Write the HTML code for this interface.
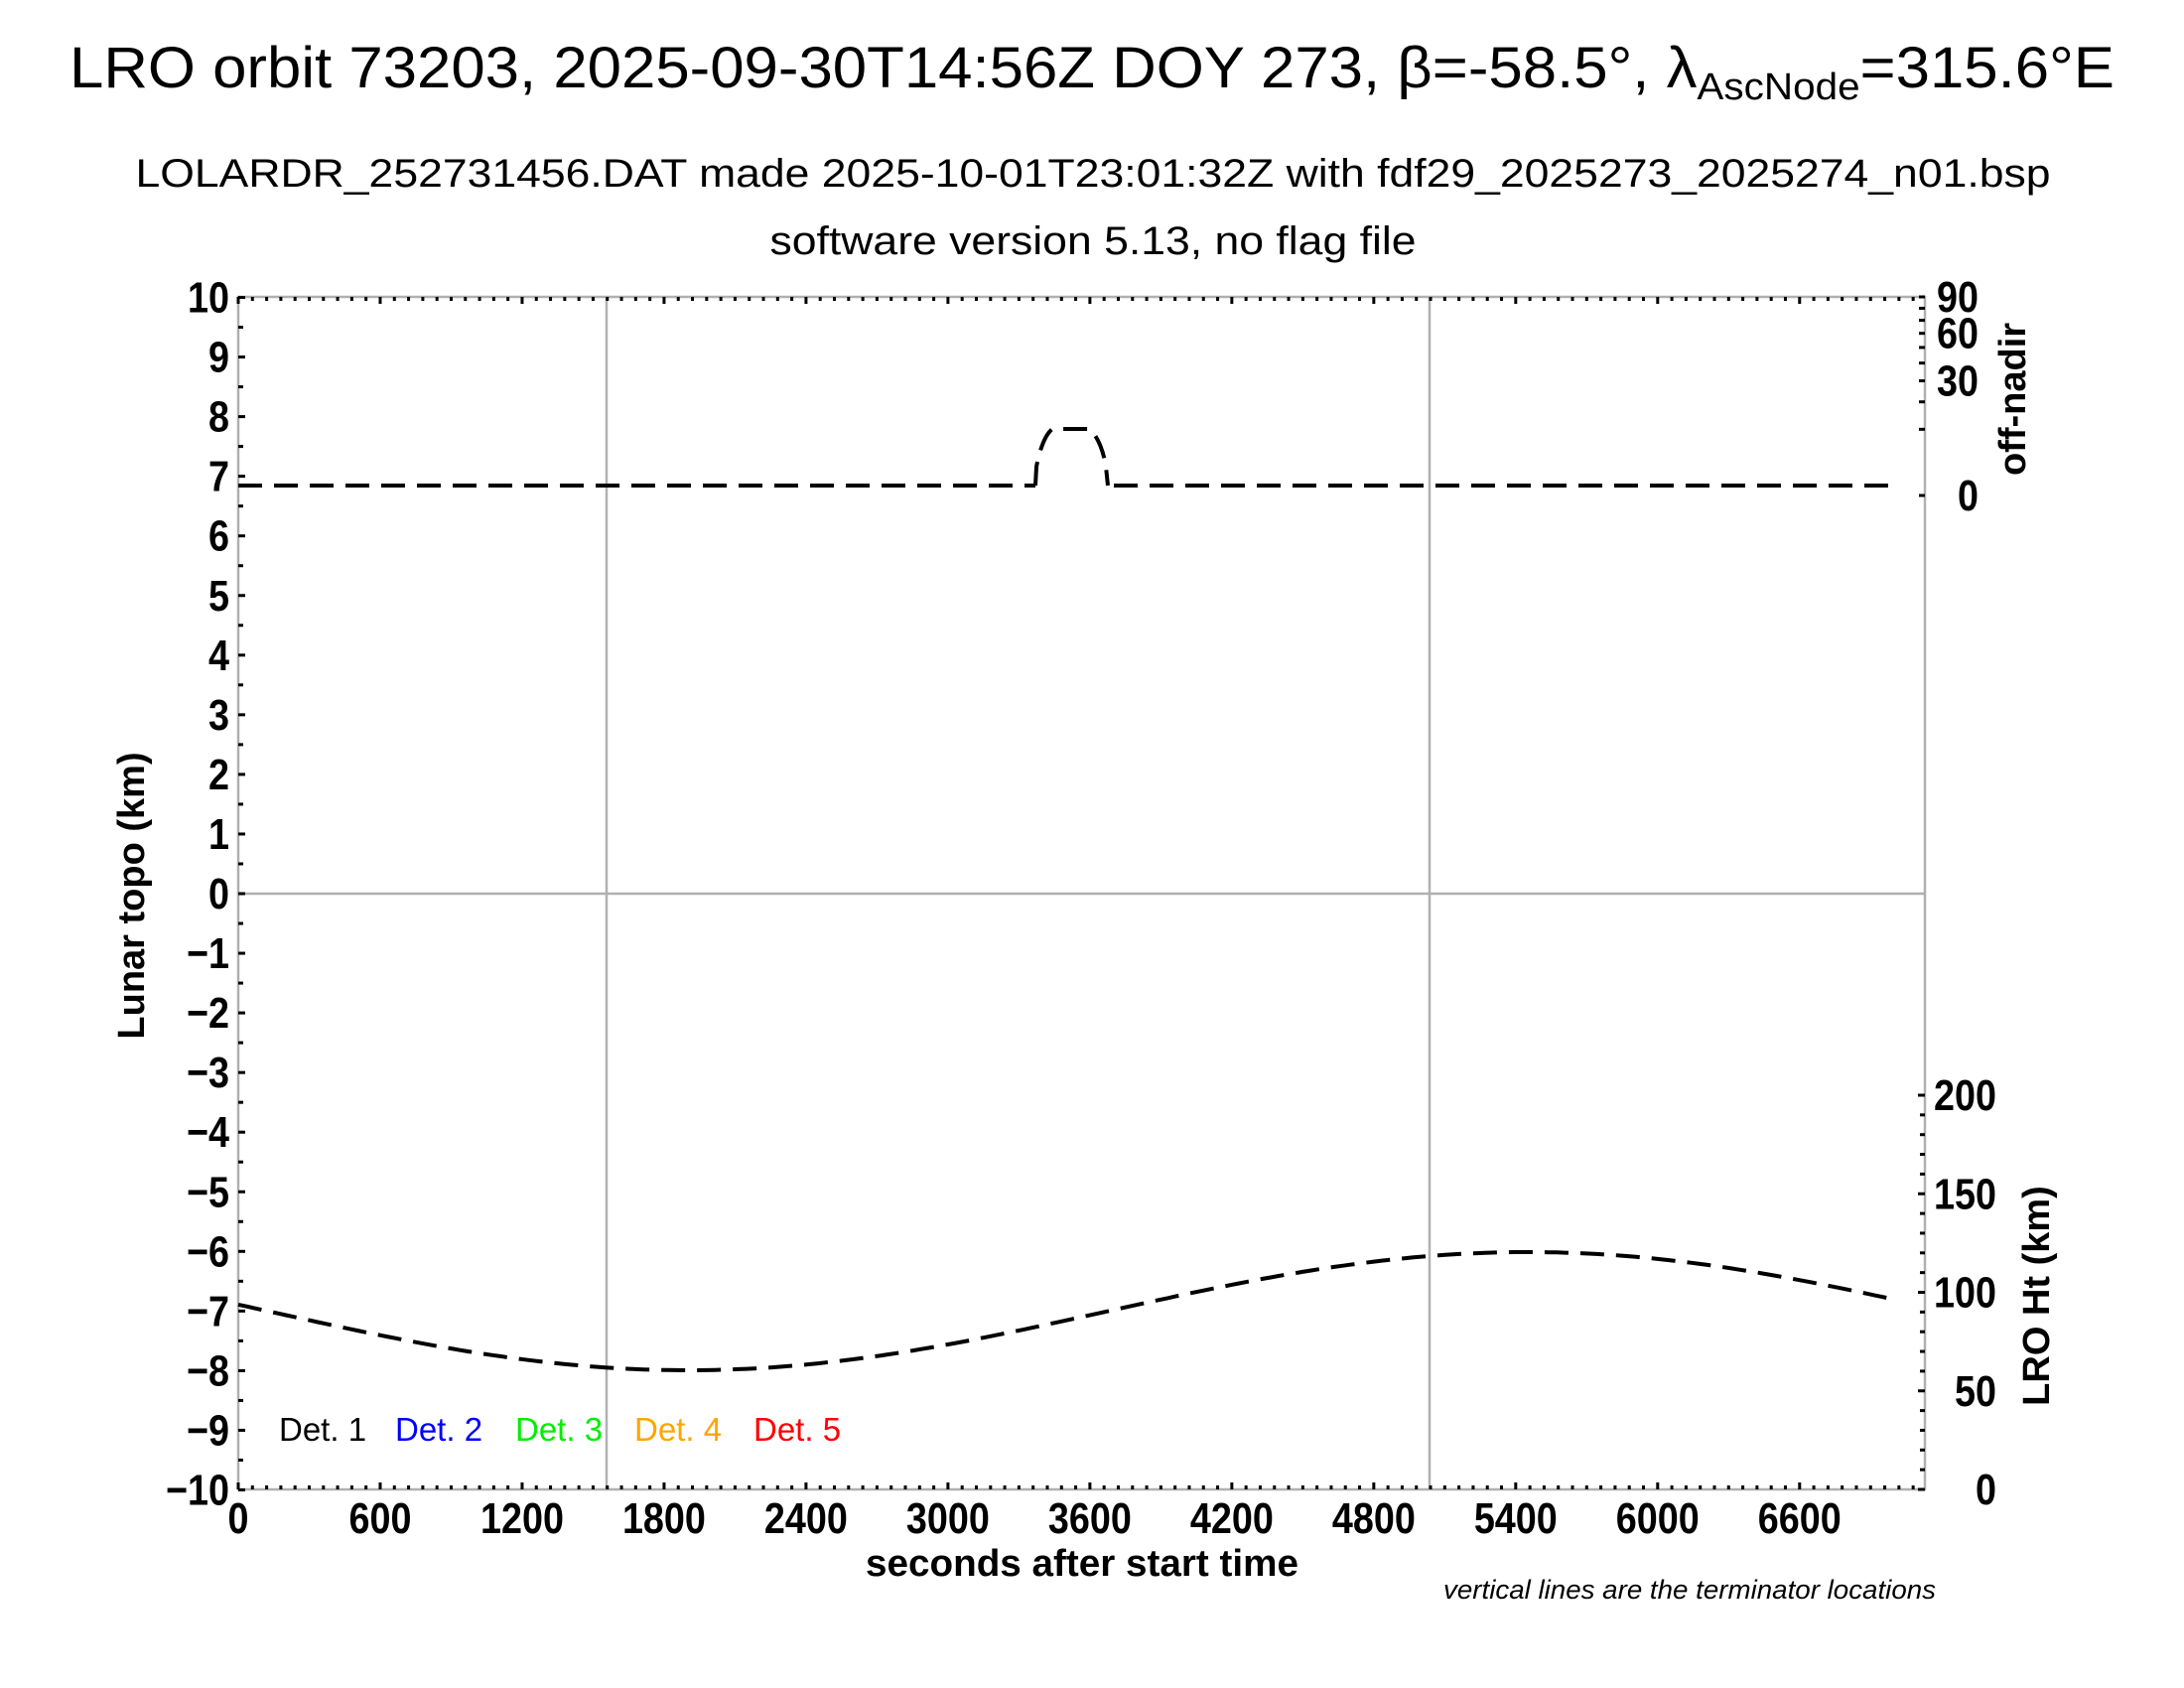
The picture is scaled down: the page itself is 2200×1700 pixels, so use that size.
<!DOCTYPE html>
<html><head><meta charset="utf-8"><style>
html,body{margin:0;padding:0;background:#fff;}
svg{display:block;}
text{font-family:"Liberation Sans",sans-serif;}
</style></head><body>
<svg id="s" width="2200" height="1700" viewBox="0 0 2200 1700" xmlns="http://www.w3.org/2000/svg">
<rect width="2200" height="1700" fill="#fff"/>
<text x="1100" y="88" font-size="58" text-anchor="middle" textLength="2060" lengthAdjust="spacingAndGlyphs">LRO orbit 73203, 2025-09-30T14:56Z DOY 273, β=-58.5°, λ<tspan font-size="38" dy="12">AscNode</tspan><tspan dy="-12">=315.6°E</tspan></text>
<text x="1101" y="188" font-size="40" text-anchor="middle" textLength="1929" lengthAdjust="spacingAndGlyphs">LOLARDR_252731456.DAT made 2025-10-01T23:01:32Z with fdf29_2025273_2025274_n01.bsp</text>
<text x="1101" y="256" font-size="40" text-anchor="middle" textLength="651" lengthAdjust="spacingAndGlyphs">software version 5.13, no flag file</text>

<g id="grid" stroke="#b0b0b0" stroke-width="2.5" fill="none">
<rect x="240" y="299" width="1699" height="1201"/>
<line x1="611" y1="299" x2="611" y2="1500"/>
<line x1="1440" y1="299" x2="1440" y2="1500"/>
<line x1="240" y1="900" x2="1939" y2="900"/>
</g>
<g id="ticks" stroke="#000" stroke-width="3"></g>
<g id="labels" font-weight="bold" font-size="44"></g>

<text x="0" y="0" font-size="38" font-weight="bold" text-anchor="middle" transform="translate(145,902) rotate(-90)">Lunar topo (km)</text>
<text x="1090" y="1587" font-size="38" font-weight="bold" text-anchor="middle" textLength="436" lengthAdjust="spacingAndGlyphs">seconds after start time</text>
<text x="0" y="0" font-size="38" font-weight="bold" text-anchor="middle" transform="translate(2040,402) rotate(-90)">off-nadir</text>
<text x="0" y="0" font-size="38" font-weight="bold" text-anchor="middle" transform="translate(2064,1305) rotate(-90)">LRO Ht (km)</text>
<text x="1454" y="1610" font-size="27" font-style="italic" textLength="496" lengthAdjust="spacingAndGlyphs">vertical lines are the terminator locations</text>

<g font-size="33">
<text x="281" y="1451" fill="#000">Det. 1</text>
<text x="398" y="1451" fill="#0000ff">Det. 2</text>
<text x="519" y="1451" fill="#00ee00">Det. 3</text>
<text x="639" y="1451" fill="#ffa500">Det. 4</text>
<text x="759" y="1451" fill="#ff0000">Det. 5</text>
</g>

<g stroke="#000" stroke-width="4" fill="none" stroke-dasharray="24,12">
<polyline points="240,489 1043,489"/>
<path d="M1043,489 L1044,470 Q1050,440 1060,432 L1098,432 Q1110,445 1114,470 L1116,489"/>
<polyline points="1122,489 1910,489"/>
<polyline id="ht" points=""/>
</g>
</svg>
<script>
var NS="http://www.w3.org/2000/svg";
function el(p,n,a,t){var e=document.createElementNS(NS,n);for(var k in a)e.setAttribute(k,a[k]);if(t!==undefined)e.textContent=t;document.getElementById(p).appendChild(e);}
var pts=[];for(var x=240;x<=1914;x+=8){var y=1320.5+59.5*Math.cos(2*Math.PI*(x-693)/1692);pts.push(x+","+y.toFixed(1));}
document.getElementById("ht").setAttribute("points",pts.join(" "));
var L=240,R=1939,T=299,B=1500,sx=0.2383;
function lab(x,y,anchor,s){var n=s.replace("\u2212","").length;var w=n*21+(s.charAt(0)=="\u2212"?22:0);el("labels","text",{x:x,y:y,"text-anchor":anchor,textLength:w,lengthAdjust:"spacingAndGlyphs"},s);}
for(var v=-10;v<=10;v+=0.5){var y=900-v*60.05;var maj=(v%1===0);el("ticks","line",{x1:L,y1:y,x2:L+(maj?7:5),y2:y});
 if(maj) lab(231,y+15,"end",(v<0?"\u2212":"")+Math.abs(v));}
for(var s=0;s<=7130;s+=60){var x=L+s*sx;var maj=(s%600===0);el("ticks","line",{x1:x,y1:B,x2:x,y2:B-(maj?7:4)});el("ticks","line",{x1:x,y1:T,x2:x,y2:T+(maj?7:4)});
 if(maj) lab(x,1544,"middle",""+s);}
[0,10,20,30,40,50,60,70,80,90].forEach(function(a){var y=499-Math.sqrt(a)/Math.sqrt(90)*200;el("ticks","line",{x1:R,y1:y,x2:R-6,y2:y});});
[[0,"0"],[30,"30"],[60,"60"],[90,"90"]].forEach(function(p){var y=499-Math.sqrt(p[0])/Math.sqrt(90)*200;lab(1993,y+15,"end",p[1]);});
for(var h=0;h<=200;h+=10){var y=1500-h*1.985;var maj=(h%50===0);el("ticks","line",{x1:R,y1:y,x2:R-(maj?7:5),y2:y});
 if(maj) lab(2011,y+15,"end",""+h);}
</script>
</body></html>
